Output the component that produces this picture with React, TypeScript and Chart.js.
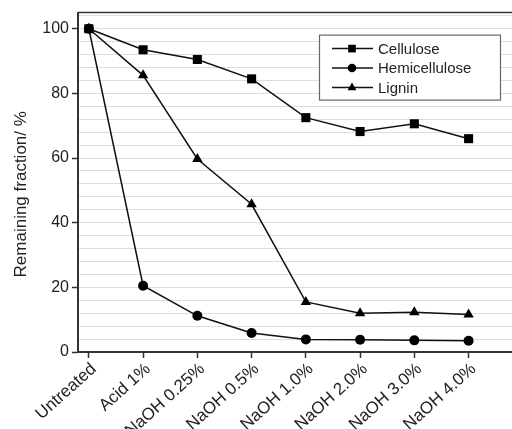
import { useEffect, useRef } from 'react';
import { Chart, registerables } from 'chart.js';

Chart.register(...registerables);

const categories = ['Untreated', 'Acid 1%', 'NaOH 0.25%', 'NaOH 0.5%', 'NaOH 1.0%', 'NaOH 2.0%', 'NaOH 3.0%', 'NaOH 4.0%'];
const cellulose = [100, 93.5, 90.5, 84.5, 72.5, 68.2, 70.6, 66.0];
const hemicellulose = [100, 20.5, 11.2, 5.9, 3.9, 3.8, 3.6, 3.5];
const lignin = [100, 85.6, 59.7, 45.7, 15.5, 12.0, 12.3, 11.6];
const seriesNames = ['Cellulose', 'Hemicellulose', 'Lignin'];
const seriesStyles = ['rect', 'circle', 'triangle'];
const yTickLabels = [0, 20, 40, 60, 80, 100];
const yTitle = 'Remaining fraction/ %';

const FONT = "'Liberation Sans', Arial, Helvetica, sans-serif";
const AXIS = '#333333';

function drawMarker(ctx: CanvasRenderingContext2D, style: string, x: number, y: number, r: number) {
  ctx.beginPath();
  if (style === 'rect') {
    const s = Math.SQRT1_2 * r;
    ctx.rect(x - s, y - s, 2 * s, 2 * s);
  } else if (style === 'circle') {
    ctx.arc(x, y, r, 0, Math.PI * 2);
  } else {
    ctx.moveTo(x, y - r);
    ctx.lineTo(x + r * Math.sin(Math.PI / 3), y + r / 2);
    ctx.lineTo(x - r * Math.sin(Math.PI / 3), y + r / 2);
    ctx.closePath();
  }
  ctx.fill();
}

export default function App() {
  const ref = useRef<HTMLCanvasElement>(null);

  useEffect(() => {
    if (!ref.current) return;
    const toPts = (arr: number[]) => arr.map((y, i) => ({ x: i, y }));
    const allSeries = [cellulose, hemicellulose, lignin];
    const radii = [6.4, 5, 6];

    const frameAndLegend = {
      id: 'frameAndLegend',
      afterDraw(chart: any) {
        const { ctx, chartArea } = chart;
        ctx.save();
        ctx.strokeStyle = AXIS;
        ctx.lineWidth = 1.5;
        ctx.beginPath();
        ctx.moveTo(chartArea.left, chartArea.top);
        ctx.lineTo(chartArea.right, chartArea.top);
        ctx.stroke();

        ctx.save();
        ctx.translate(21, (chartArea.top + chartArea.bottom) / 2 + 12);
        ctx.rotate(-Math.PI / 2);
        ctx.font = `17px ${FONT}`;
        ctx.fillStyle = '#222222';
        ctx.textAlign = 'center';
        ctx.textBaseline = 'middle';
        ctx.fillText(yTitle, 0, 0);
        ctx.restore();

        const bw = 181;
        const bh = 65;
        const bx = chartArea.right - 193;
        const by = chartArea.top + 22;
        ctx.fillStyle = '#ffffff';
        ctx.fillRect(bx, by, bw, bh);
        ctx.strokeStyle = '#666666';
        ctx.lineWidth = 1.2;
        ctx.strokeRect(bx + 0.5, by + 0.5, bw, bh);
        ctx.font = `15px ${FONT}`;
        ctx.textBaseline = 'middle';
        ctx.textAlign = 'left';
        chart.data.datasets.forEach((ds: any, i: number) => {
          const cy = by + 14 + i * 19.5;
          ctx.strokeStyle = '#111';
          ctx.lineWidth = 1.5;
          ctx.beginPath();
          ctx.moveTo(bx + 13, cy);
          ctx.lineTo(bx + 54, cy);
          ctx.stroke();
          ctx.fillStyle = '#000';
          drawMarker(ctx, ds.pointStyle, bx + 33, cy, ds.pointRadius * 0.85);
          ctx.fillStyle = '#222';
          ctx.fillText(ds.label, bx + 59, cy + 1);
        });
        ctx.restore();
      },
    };

    const chart = new Chart(ref.current, {
      type: 'line',
      data: {
        datasets: allSeries.map((arr, i) => ({
          label: seriesNames[i],
          data: toPts(arr),
          borderColor: '#111111',
          borderWidth: 1.5,
          backgroundColor: '#000000',
          pointBackgroundColor: '#000000',
          pointBorderColor: '#000000',
          pointBorderWidth: 0,
          pointStyle: seriesStyles[i] as any,
          pointRadius: radii[i],
          tension: 0,
          clip: false as any,
        })),
      },
      options: {
        animation: false,
        responsive: false,
        maintainAspectRatio: false,
        devicePixelRatio: 1,
        layout: { autoPadding: false, padding: { top: 11, right: 0, left: 0, bottom: 0 } },
        plugins: {
          legend: { display: false },
          tooltip: { enabled: false },
        },
        scales: {
          x: {
            type: 'linear',
            min: -0.2,
            max: 7.8,
            afterBuildTicks: (scale: any) => {
              scale.ticks = categories.map((_, i) => ({ value: i }));
            },
            afterFit: (scale: any) => {
              scale.height = 77;
              scale.paddingLeft = 0;
              scale.paddingRight = 0;
            },
            ticks: {
              autoSkip: false,
              maxRotation: 42,
              minRotation: 42,
              padding: 1,
              labelOffset: 5,
              color: '#222222',
              font: { family: FONT, size: 17 },
              callback: (v: any) => categories[v as number] ?? '',
            },
            grid: {
              drawOnChartArea: false,
              tickLength: 6,
              tickColor: AXIS,
              tickWidth: 1.5,
            },
            border: { color: AXIS, width: 2 },
          },
          y: {
            type: 'linear',
            min: 0,
            max: 105,
            afterBuildTicks: (scale: any) => {
              const t = [];
              for (let v = 0; v <= 104; v += 4) t.push({ value: v });
              scale.ticks = t;
            },
            afterFit: (scale: any) => {
              scale.width = 78;
            },
            ticks: {
              autoSkip: false,
              padding: 3,
              color: '#222222',
              font: { family: FONT, size: 16 },
              callback: (v: any) => (yTickLabels.includes(v as number) ? String(v) : ''),
            },
            grid: {
              color: (c: any) => (c.tick && c.tick.value === 0 ? 'rgba(0,0,0,0)' : '#dddddd'),
              lineWidth: 1,
              tickLength: 6,
              tickWidth: 1.5,
              tickColor: (c: any) => (c.tick && yTickLabels.includes(c.tick.value) ? AXIS : 'rgba(0,0,0,0)'),
            },
            border: { color: AXIS, width: 2 },
            title: { display: false, text: yTitle },
          },
        },
      },
      plugins: [frameAndLegend],
    });
    return () => chart.destroy();
  }, []);

  return (
    <div style={{ position: 'absolute', left: 0, top: 0, width: 512, height: 429, background: '#fff' }}>
      <canvas ref={ref} width={512} height={429} style={{ display: 'block', width: 512, height: 429 }} />
    </div>
  );
}
